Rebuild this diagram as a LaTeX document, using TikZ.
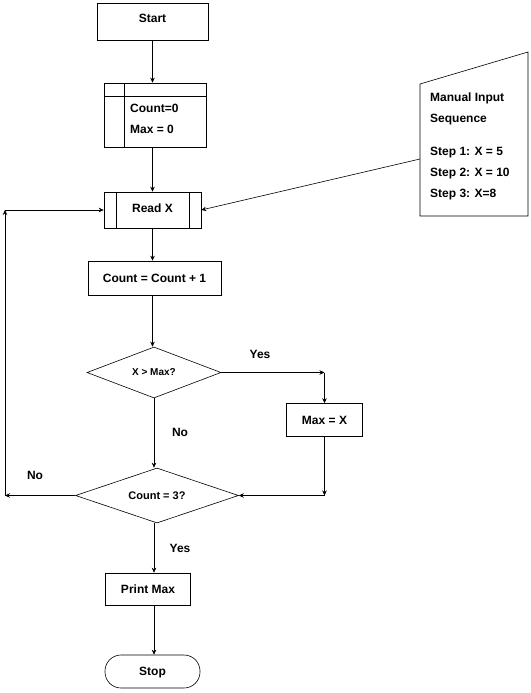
\documentclass[tikz,border=0pt]{standalone}
\usepackage{fontspec}
\setmainfont{Liberation Sans}
\usetikzlibrary{shapes.geometric,arrows.meta}
\begin{document}
\begin{tikzpicture}[x=1pt,y=-1pt,
  every node/.style={font=\bfseries\fontsize{12}{14}\selectfont, inner sep=0pt},
  procbox/.style={draw, line width=0.6pt, rectangle},
  decision/.style={draw, line width=0.6pt, diamond},
  txt/.style={font=\bfseries\fontsize{12}{14}\selectfont},
  arr/.style={draw, line width=0.6pt, -{Stealth[length=5pt,width=4.5pt]}},
  ln/.style={draw, line width=0.6pt}]
\useasboundingbox (0,0) rectangle (530,693);

% nodes
\node[procbox, minimum width=111pt, minimum height=37pt] (start) at (152.5,21.5) {};
\node[txt] (starttext) at (152.5,18) {Start};
\node[procbox, minimum width=102pt, minimum height=64pt] (count) at (155,115) {};
\draw[ln] (104,96) -- (206,96);
\draw[ln] (124,83) -- (124,147);
\node[txt, anchor=west] (c0) at (130,108) {Count=0};
\node[txt, anchor=west] (m0) at (130,129) {Max = 0};

\node[procbox, minimum width=97pt, minimum height=36pt] (readx) at (152.5,210) {};
\node[txt] (readtext) at (152.5,208) {Read X};
\draw[ln] (116,192) -- (116,228);
\draw[ln] (189,192) -- (189,228);

\node[procbox, minimum width=133pt, minimum height=34pt] (inc) at (154.5,278) {Count = Count + 1};

\node[decision, minimum width=134pt, minimum height=51pt, aspect=2.6,
      font=\bfseries\fontsize{10}{12}\selectfont] (d1) at (154,372.5) {X > Max?};

\node[procbox, minimum width=76pt, minimum height=33pt] (maxx) at (324.5,420) {Max = X};

\node[decision, minimum width=163pt, minimum height=55pt, aspect=2.9,
      font=\bfseries\fontsize{11}{13}\selectfont] (d2) at (157,495.5) {Count = 3?};

\node[procbox, minimum width=85pt, minimum height=32pt] (print) at (148,589) {Print Max};

\node[procbox, rounded corners=16pt, minimum width=95pt, minimum height=33pt] (stop) at (152.5,671.5) {};
\node[txt] (stoptext) at (152.5,673) {Stop};

% manual input
\coordinate (mi1) at (420,84);
\coordinate (mi2) at (528,52);
\coordinate (mi3) at (528,216);
\coordinate (mi4) at (420,216);
\draw[ln] (mi1) -- (mi2) -- (mi3) -- (mi4) -- cycle;
\node[txt, anchor=north west, align=left, font=\bfseries\fontsize{12}{21}\selectfont] (mitext) at (430,93)
  {Manual Input\\Sequence\\[12pt]Step 1: X = 5\\Step 2: X = 10\\Step 3: X=8};
\coordinate (mi) at (420,159);

% connectors
\draw[arr] (start.south) -- (start.south |- count.north);
\draw[arr] (start.south |- count.south) -- (readx.north);
\draw[arr] (mi) -- (readx.east);
\draw[arr] (readx.south) -- (readx.south |- inc.north);
\draw[arr] (readx.south |- inc.south) -- (readx.south |- d1.north);

\coordinate (y1) at (maxx.north |- d1.east);
\draw[arr] (d1.east) -- (y1);
\draw[arr] (y1) -- (maxx.north);
\node[txt] (yes1) at (260,354) {Yes};

\draw[arr] (d1.south) -- (d1.south |- d2.north);
\node[txt] (no1) at (180,432) {No};

\coordinate (y2) at (maxx.south |- d2.east);
\draw[arr] (maxx.south) -- (y2);
\draw[arr] (y2) -- (d2.east);

\coordinate (n1) at (5,495.5);
\coordinate (n2) at (5,210);
\draw[arr] (d2.west) -- (n1);
\draw[arr] (n1) -- (n2);
\draw[arr] (n2) -- (readx.west);
\node[txt] (no2) at (35,475) {No};

\draw[arr] (d1.south |- d2.south) -- (d1.south |- print.north);
\node[txt] (yes2) at (180,548) {Yes};
\draw[arr] (d1.south |- print.south) -- (d1.south |- stop.north);
\end{tikzpicture}
\end{document}
